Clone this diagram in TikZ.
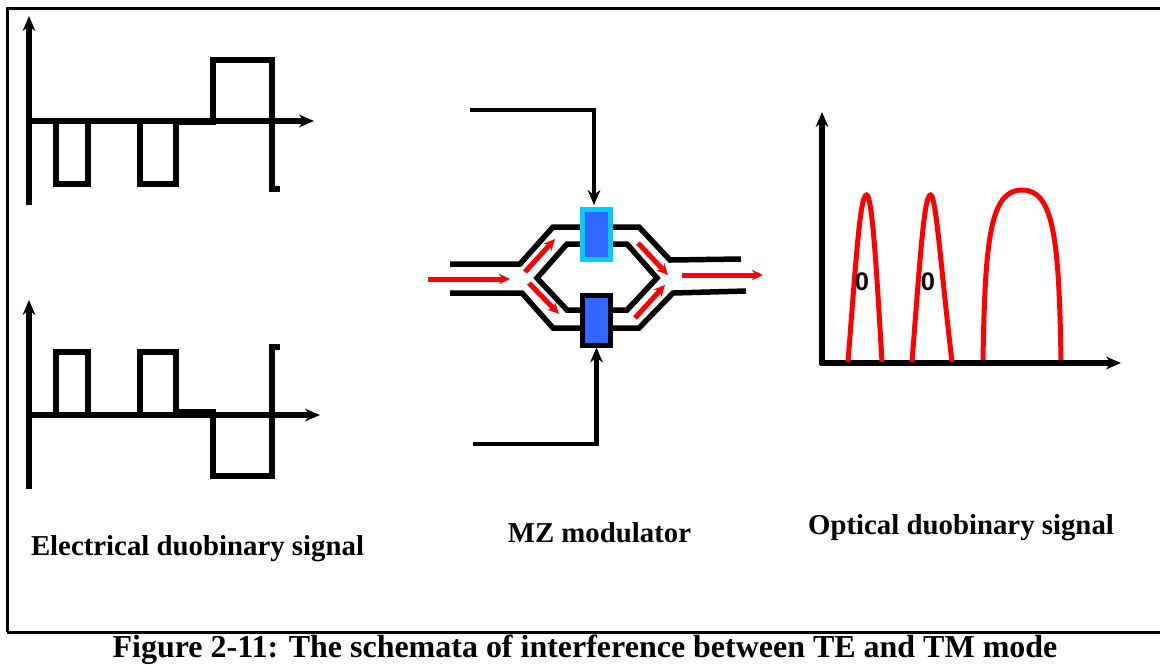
\documentclass[tikz,border=0pt]{standalone}
\usepackage{fontspec}
\setmainfont{Liberation Serif}
\newfontfamily\zerofont{Liberation Sans}
\usetikzlibrary{arrows.meta}
\newdimen\Px
\Px=0.02cm
\definecolor{phaseblue}{RGB}{51,102,255}
\definecolor{phasecyan}{RGB}{0,204,255}
\tikzset{
    wave/.style={line width=5.5\Px,line join=miter},
    axis/.style={line width=5.5\Px,-{Stealth[length=8.5pt,width=7.2pt]}},
    guide/.style={line width=5.5\Px},
    light/.style={red,line width=5\Px,-{Stealth[length=6.3pt,width=6pt]}},
    pulse/.style={red,line width=5\Px},
    title/.style={font=\bfseries\fontsize{16.4pt}{18pt}\selectfont,inner sep=0pt},
    elec/.style={line width=4.5\Px,-{Stealth[length=8.5pt,width=7.2pt]}},
    zero/.style={font=\zerofont\bfseries\fontsize{14.5pt}{15pt}\selectfont,inner sep=0pt},
    phase/.style={draw=#1,fill=phaseblue,line width=5\Px,inner sep=0pt,minimum width=28.5\Px,minimum height=50\Px}
}
\begin{document}
\begin{tikzpicture}[x=\Px,y=-\Px]
    \useasboundingbox (0,0) rectangle (1160,664);
    % frame
    \draw[line width=3\Px] (1160,8) -- (7,8) -- (7,632);
    \draw[line width=3\Px] (7,632) -- (1160,632);
    % upper electrical signal
    \draw[axis] (29,205) -- (29,16);
    \draw[axis] (29,121) -- (314,121);
    \draw[wave] (56,121) -- (56,184) -- (88,184) -- (88,121);
    \draw[wave] (140,121) -- (140,184) -- (176,184) -- (176,121);
    \draw[wave] (176,122.5) -- (213,122.5) -- (213,60) -- (272,60) -- (272,189) -- (280,189);
    % lower electrical signal
    \draw[axis] (29,489) -- (29,300);
    \draw[axis] (29,415) -- (320,415);
    \draw[wave] (56,415) -- (56,352) -- (88,352) -- (88,415);
    \draw[wave] (140,415) -- (140,352) -- (176,352) -- (176,415);
    \draw[wave] (176,412) -- (213,412) -- (213,476) -- (272,476) -- (272,347) -- (280,347);
    % modulator arms
    \draw[guide] (450,264) -- (520,264) -- (553,227) -- (613,227) -- (639,227) -- (670,260) -- (741,259);
    \draw[guide] (450,293) -- (522,293) -- (553,328) -- (639,328) -- (673,293) -- (746,291);
    \draw[guide] (627,244) -- (567,244) -- (537,278) -- (567,310) -- (627,310) -- (657,278) -- cycle;
    \node[phase=phasecyan] (upbox) at (596.5,234.5) {};
    \node[phase=black] (lowbox) at (596.5,320) {};
    % electrodes
    \coordinate (upin) at (470,110);
    \coordinate (upend) at (594,205);
    \coordinate (lowin) at (473,444);
    \draw[elec] (upin) -| (upend);
    \draw[elec] (lowin) -| (lowbox.south);
    % light inside the modulator
    \draw[light] (428,279) -- (510,279);
    \draw[light] (525,272) -- (555,239);
    \draw[light] (529,283) -- (559,314);
    \draw[light] (638,243) -- (668,275);
    \draw[light] (635,318) -- (665,285);
    \draw[light] (682,275) -- (763,275);
    % optical signal
    \draw[axis] (822,365) -- (822,112);
    \draw[axis] (820,363) -- (1121,363);
    \foreach \x/\w in {848/34,912/40} {
        \draw[pulse] (\x,362) .. controls ({\x+8},260) and ({\x+12},195) .. ({\x+18.5},195)
            .. controls ({\x+24},195) and ({\x+28},260) .. ({\x+\w},362);
    }
    \draw[pulse] (983,360) .. controls (985,240) and (990,190) .. (1022,190)
        .. controls (1054,190) and (1059,240) .. (1061,360);
    \node[zero] (zeroa) at (862,282) {0};
    \node[zero] (zerob) at (928,282) {0};
    % labels
    \node[title] (elecname) at (197.5,549) {Electrical duobinary signal};
    \node[title] (mzname) at (599.5,533) {MZ modulator};
    \node[title] (optname) at (961,528) {Optical duobinary signal};
    \node[title,font=\bfseries\fontsize{18.2pt}{20pt}\selectfont] (caption) at (585,650) {Figure 2-11: The schemata of interference between TE and TM mode};
\end{tikzpicture}
\end{document}
